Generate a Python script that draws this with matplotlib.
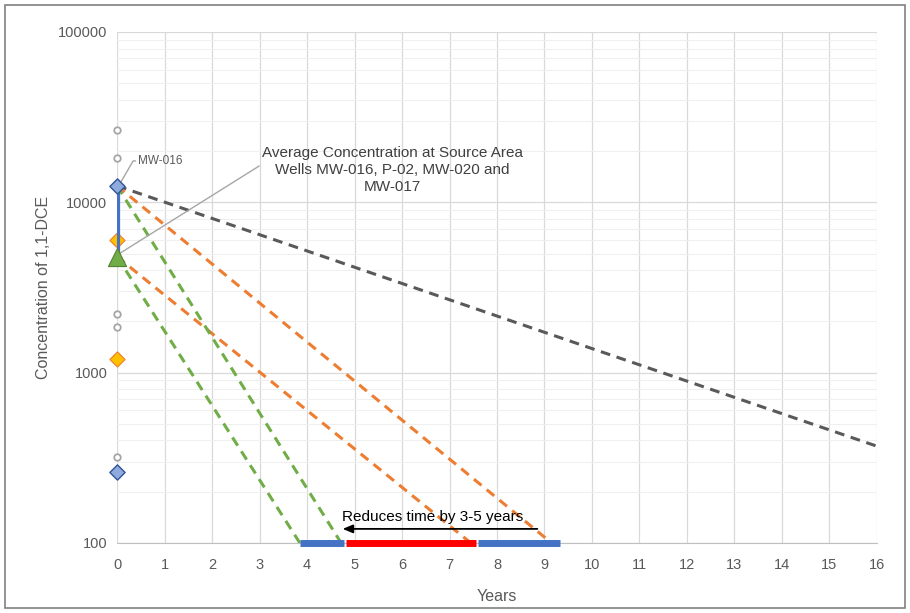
import matplotlib
matplotlib.use("Agg")
import matplotlib.pyplot as plt
import numpy as np
from matplotlib.patches import Rectangle

plt.rcParams['font.family'] = ['Liberation Sans', 'DejaVu Sans']

# data
gray_circle_y = [26500, 18200, 2200, 1850, 320]
blue_diamond_y = [12500, 260]
orange_diamond_y = [6000, 1200]
green_triangle_y = [4800]
source_range = [12500, 4900]

# decay lines (start conc, years to reach end conc)
decay_x = {
    'gray': [0, 16],
    'orange_hi': [0, 9.15],
    'orange_lo': [0, 7.45],
    'green_hi': [0, 4.72],
    'green_lo': [0, 3.85],
}
decay_y = {
    'gray': [12500, 370],
    'orange_hi': [12500, 100],
    'orange_lo': [4800, 100],
    'green_hi': [12500, 100],
    'green_lo': [4800, 100],
}
decay_color = {
    'gray': '#595959',
    'orange_hi': '#ED7D31',
    'orange_lo': '#ED7D31',
    'green_hi': '#70AD47',
    'green_lo': '#70AD47',
}
bar_segments = [(3.85, 4.78, '#4472C4'), (4.82, 7.55, '#FF0000'), (7.6, 9.32, '#4472C4')]

fig = plt.figure(figsize=(9.1, 6.13), dpi=100)
ax = fig.add_axes([0.1286, 0.1142, 0.8351, 0.8336])
ax.set_yscale('log')
ax.set_xlim(0, 16)
ax.set_ylim(100, 100000)
ax.set_xticks(range(0, 17))
ax.set_yticks([100, 1000, 10000, 100000])
ax.set_yticklabels(['100', '1000', '10000', '100000'])
ax.grid(True, which='major', color='#d9d9d9', lw=0.9)
ax.grid(True, which='minor', axis='y', color='#efefef', lw=0.7)
ax.tick_params(axis='both', which='both', length=0, labelcolor='#595959', labelsize=10.5)
ax.tick_params(axis='x', pad=11)
ax.tick_params(axis='y', pad=7)
for s in ['top', 'right', 'left']:
    ax.spines[s].set_visible(False)
ax.spines['bottom'].set_color('#bfbfbf')
ax.set_axisbelow(True)

ax.set_xlabel('Years', color='#595959', fontsize=11.5, labelpad=12)
ax.set_ylabel('Concentration of 1,1-DCE', color='#595959', fontsize=11.5, labelpad=5)

for k in decay_x:
    ax.plot(decay_x[k], decay_y[k], ls=(0, (3.2, 2.2)), color=decay_color[k], lw=2.2, zorder=3)

# bars at 100
for x0, x1, c in bar_segments:
    ax.plot([x0, x1], [100, 100], color=c, lw=5, solid_capstyle='butt', zorder=4, clip_on=False)

ax.plot([0, 0], source_range, color='#4472C4', lw=4.5, zorder=4)

ax.scatter([0]*len(gray_circle_y), gray_circle_y, s=22, facecolor='white', edgecolor='#a6a6a6', lw=1.3, zorder=5, clip_on=False)
ax.scatter([0]*len(orange_diamond_y), orange_diamond_y, s=60, marker='D', facecolor='#FFC000', edgecolor='#ED7D31', lw=0.8, zorder=3.5, clip_on=False)
ax.scatter([0]*len(green_triangle_y), green_triangle_y, s=170, marker='^', facecolor='#70AD47', edgecolor='#548235', lw=0.8, zorder=6, clip_on=False)
ax.scatter([0]*len(blue_diamond_y), blue_diamond_y, s=60, marker='D', facecolor='#8FAADC', edgecolor='#2F5597', lw=1.0, zorder=6, clip_on=False)

# annotations
ax.annotate('MW-016', xy=(0.05, 12700), xytext=(0.45, 17500), fontsize=8.5, color='#595959',
            va='center', ha='left',
            arrowprops=dict(arrowstyle='-', color='#a6a6a6', lw=1, shrinkA=0, shrinkB=0,
                            connectionstyle='angle,angleA=0,angleB=60,rad=0'))
ax.annotate('Average Concentration at Source Area\nWells MW-016, P-02, MW-020 and\nMW-017',
            xy=(0.05, 5000), xytext=(5.8, 15500), fontsize=11, color='#404040',
            ha='center', va='center', linespacing=1.25,
            arrowprops=dict(arrowstyle='-', color='#a6a6a6', lw=1, shrinkA=0, shrinkB=0,
                            relpos=(0.0, 0.62)))

ax.annotate('', xy=(4.75, 121), xytext=(8.85, 121),
            arrowprops=dict(arrowstyle='-|>,head_length=0.6,head_width=0.25', color='black', lw=1.3, shrinkA=0, shrinkB=0))
ax.text(6.65, 143, 'Reduces time by 3-5 years', ha='center', va='center', fontsize=11, color='black')

fig.patches.append(Rectangle((0.006, 0.008), 0.988, 0.984, transform=fig.transFigure,
                             fill=False, edgecolor='#808080', lw=1.2))

fig.savefig('out.png', dpi=100)
